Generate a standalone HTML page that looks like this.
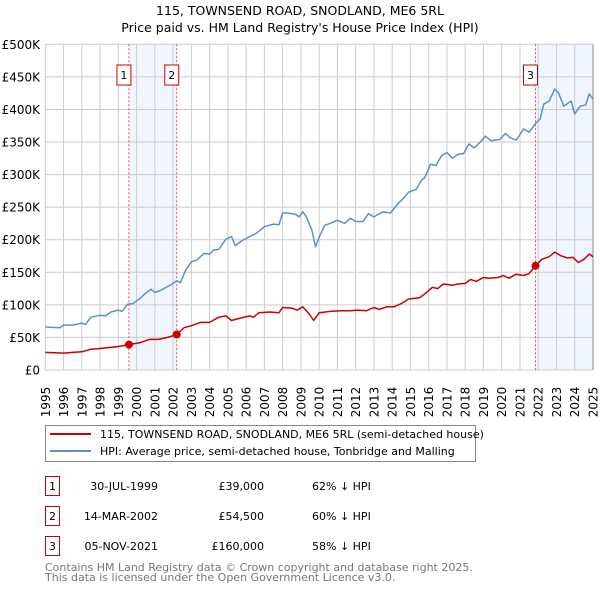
<!DOCTYPE html>
<html><head><meta charset="utf-8"><style>
body{margin:0;background:#fff;font-family:"DejaVu Sans","Liberation Sans",sans-serif;}
svg{display:block}
</style></head><body>
<svg id="c" width="600" height="590" xmlns="http://www.w3.org/2000/svg" font-family="DejaVu Sans, Liberation Sans, sans-serif"></svg>
<script>
const hpiYears=[1995.0,1995.8,1996.0,1996.5,1997.0,1997.2,1997.5,1998.0,1998.3,1998.6,1999.0,1999.2,1999.5,1999.8,2000.2,2000.5,2000.8,2001.0,2001.3,2001.7,2002.0,2002.2,2002.4,2002.7,2003.0,2003.3,2003.7,2004.0,2004.2,2004.5,2004.9,2005.2,2005.4,2005.8,2006.2,2006.5,2006.7,2007.0,2007.5,2007.8,2008.0,2008.3,2008.7,2008.9,2009.1,2009.3,2009.6,2009.8,2010.0,2010.3,2010.6,2011.0,2011.4,2011.7,2012.0,2012.4,2012.7,2013.0,2013.5,2013.9,2014.3,2014.6,2014.9,2015.3,2015.6,2015.8,2016.1,2016.4,2016.7,2017.0,2017.3,2017.6,2017.9,2018.2,2018.5,2018.9,2019.1,2019.4,2019.9,2020.2,2020.5,2020.8,2021.2,2021.5,2021.9,2022.1,2022.3,2022.6,2022.9,2023.1,2023.4,2023.8,2024.0,2024.3,2024.6,2024.8,2025.0];
const hpiValues=[66,65,69,69,72,70,81,84,83,89,92,90,101,102,110,118,124,119,122,128,133,137,134,154,166,169,179,178,184,185,201,205,191,199,205,209,213,220,224,223,241,241,239,235,243,235,215,189,204,222,225,230,225,233,228,228,240,235,243,241,255,263,273,277,291,296,316,314,329,334,325,331,332,347,341,352,359,352,354,363,356,353,370,365,380,385,408,413,431,426,405,413,393,405,407,424,416];
const priceYears=[1995.0,1996.0,1996.5,1997.0,1997.5,1998.0,1999.0,1999.58,2000.2,2000.7,2001.2,2001.7,2002.2,2002.6,2003.0,2003.5,2004.0,2004.5,2004.9,2005.2,2005.6,2006.2,2006.4,2006.7,2007.3,2007.8,2008.0,2008.5,2008.8,2009.1,2009.4,2009.7,2010.0,2010.6,2011.2,2011.7,2012.1,2012.6,2013.0,2013.3,2013.7,2014.1,2014.5,2014.9,2015.5,2015.8,2016.2,2016.5,2016.8,2017.3,2017.6,2018.0,2018.3,2018.6,2019.0,2019.3,2019.8,2020.1,2020.4,2020.8,2021.2,2021.5,2021.85,2022.2,2022.6,2022.9,2023.2,2023.6,2023.9,2024.2,2024.5,2024.8,2025.0];
const priceValues=[27,26,27,28,32,33,36,39,42,47,47,50,54.5,65,68,73,73,81,83,76,79,83,81,88,89,88,96,95,92,97,88,76,88,90,91,91,92,91,96,93,97,97,102,109,111,117,127,125,132,130,132,133,139,136,142,141,142,145,141,147,145,148,160,170,174,181,176,172,173,165,170,178,174];
const saleYears=[1999.58,2002.2,2021.85];
const saleValues=[39,54.5,160];
const saleLabels=["1","2","3"];
const yTicks=[0,50,100,150,200,250,300,350,400,450,500];
const yTickLabels=["£0","£50K","£100K","£150K","£200K","£250K","£300K","£350K","£400K","£450K","£500K"];
const xTicks=[1995,1996,1997,1998,1999,2000,2001,2002,2003,2004,2005,2006,2007,2008,2009,2010,2011,2012,2013,2014,2015,2016,2017,2018,2019,2020,2021,2022,2023,2024,2025];

const L=45.3,R=593,T=44.3,B=370;
const X=y=>L+(y-1995)/30*(R-L);
const Y=v=>B-v/500*(B-T);
const svg=document.getElementById('c');
const NS='http://www.w3.org/2000/svg';
function mk(tag,attrs,parent){const e=document.createElementNS(NS,tag);for(const k in attrs)e.setAttribute(k,attrs[k]);(parent||svg).appendChild(e);return e;}
function txt(s,attrs,parent){const e=mk('text',attrs,parent);e.textContent=s;return e;}

let t=txt('115, TOWNSEND ROAD, SNODLAND, ME6 5RL',{x:300,y:15,'text-anchor':'middle','font-size':12.5,fill:'#000'});


t=txt("Price paid vs. HM Land Registry's House Price Index (HPI)",{x:300,y:32,'text-anchor':'middle','font-size':12.5,fill:'#000'});



// shading
let s=mk('rect',{x:X(saleYears[0]),y:T,width:X(saleYears[1])-X(saleYears[0]),height:B-T,fill:'#eef3fc',opacity:0.8});


s=mk('rect',{x:X(saleYears[2]),y:T,width:R-X(saleYears[2]),height:B-T,fill:'#eef3fc',opacity:0.8});



// grid
yTicks.forEach((v,i)=>{
 const g=mk('line',{x1:L,x2:R,y1:Y(v),y2:Y(v),stroke:'#cccccc','stroke-width':1});
 
 
 const l=txt(yTickLabels[i],{x:40,y:Y(v)+4.5,'text-anchor':'end','font-size':12,fill:'#000'});
 
 
});
xTicks.forEach(yr=>{
 const g=mk('line',{x1:X(yr),x2:X(yr),y1:T,y2:B,stroke:'#cccccc','stroke-width':1});
 
 
 const l=txt(String(yr),{x:0,y:0,transform:`translate(${X(yr)+4.5},${B+32}) rotate(-90)`,'text-anchor':'middle','font-size':12,fill:'#000'});
 
 
});
let ax=mk('line',{x1:R,x2:R,y1:T,y2:B,stroke:'#888','stroke-width':1});



// sale vlines + labels
saleYears.forEach((yr,i)=>{
 const v=mk('line',{x1:X(yr),x2:X(yr),y1:T,y2:B,stroke:'#e85050','stroke-width':1,'stroke-dasharray':'2,2'});
 
 
 const bx=mk('rect',{x:X(yr)-12,y:65,width:14,height:20,fill:'#fff',stroke:'#cc0000','stroke-width':1});
 
 
 const l=txt(saleLabels[i],{x:X(yr)-5,y:79,'text-anchor':'middle','font-size':11,fill:'#000'});
 
 
});

function line(xs,vs,color,name){
 const p=mk('polyline',{points:xs.map((x,i)=>X(x).toFixed(1)+','+Y(vs[i]).toFixed(1)).join(' '),fill:'none',stroke:color,'stroke-width':1.5,'stroke-linejoin':'round'});
 
 
}
line(hpiYears,hpiValues,'#5b8fd0','hpi-line');
line(priceYears,priceValues,'#cc0000','price-line');
saleYears.forEach((yr,i)=>{
 const d=mk('circle',{cx:X(yr),cy:Y(saleValues[i]),r:4,fill:'#cc0000'});
 
 
});

// legend
const lg=mk('g',{});


mk('rect',{x:45.5,y:425.5,width:430,height:36,fill:'#fff',stroke:'#888'},lg);
let e=mk('line',{x1:50,x2:91,y1:434,y2:434,stroke:'#cc0000','stroke-width':2},lg);


e=txt('115, TOWNSEND ROAD, SNODLAND, ME6 5RL (semi-detached house)',{x:100,y:438,'font-size':11,fill:'#000'},lg);


e=mk('line',{x1:50,x2:91,y1:451,y2:451,stroke:'#5b8fd0','stroke-width':2},lg);


e=txt('HPI: Average price, semi-detached house, Tonbridge and Malling',{x:100,y:455,'font-size':11,fill:'#000'},lg);



// table
const dates=['30-JUL-1999','14-MAR-2002','05-NOV-2021'];
const prices=['£39,000','£54,500','£160,000'];
const diffs=['62% ↓ HPI','60% ↓ HPI','58% ↓ HPI'];
dates.forEach((d,i)=>{
 const yy=476+i*30;
 const b=mk('rect',{x:45.5,y:yy+0.5,width:14,height:19,fill:'#fff',stroke:'#cc0000'});
 
 
 let c=txt(saleLabels[i],{x:52.5,y:yy+14,'text-anchor':'middle','font-size':11,fill:'#000'});
 
 
 c=txt(d,{x:158,y:yy+14,'text-anchor':'end','font-size':11,fill:'#000'});
 
 
 c=txt(prices[i],{x:264,y:yy+14,'text-anchor':'end','font-size':11,fill:'#000'});
 
 
 c=txt(diffs[i],{x:312,y:yy+14,'font-size':11,fill:'#000'});
 
 
});
e=txt('Contains HM Land Registry data © Crown copyright and database right 2025.',{x:45,y:571,'font-size':11,fill:'#777'});


e=txt('This data is licensed under the Open Government Licence v3.0.',{x:45,y:581,'font-size':11,fill:'#777'});


</script>
</body></html>
